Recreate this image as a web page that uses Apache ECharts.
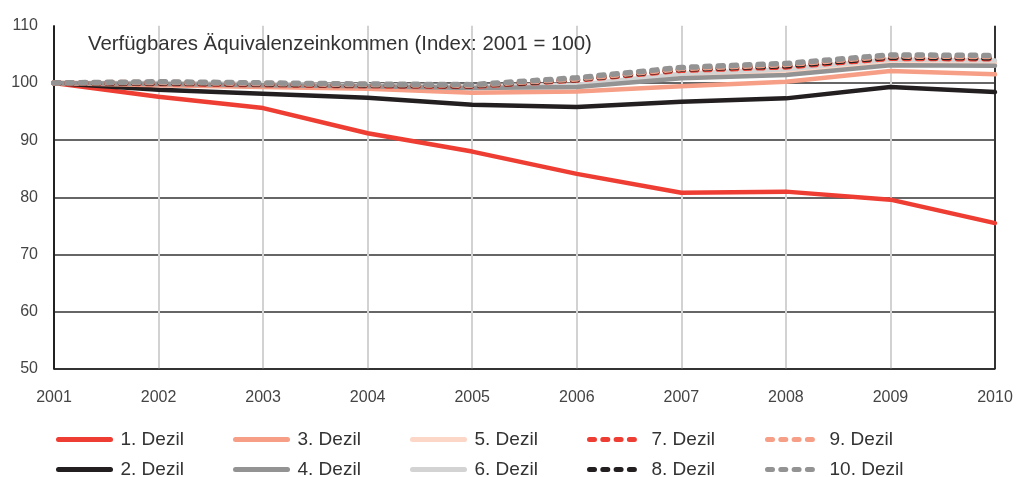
<!DOCTYPE html>
<html>
<head>
<meta charset="utf-8">
<script src="https://cdn.jsdelivr.net/npm/echarts@6/dist/echarts.min.js"></script>
<style>
  html, body { margin: 0; padding: 0; background: #fff; }
  #main { width: 1016px; height: 477px; }
</style>
</head>
<body>
<div id="main"></div>
<script>
// Jahre und Indexwerte (2001 = 100)
var years = ['2001', '2002', '2003', '2004', '2005', '2006', '2007', '2008', '2009', '2010'];

var dezil1 = [100, 97.6, 95.6, 91.2, 88.0, 84.1, 80.8, 81.0, 79.6, 75.5];
var dezil2 = [100, 98.8, 98.1, 97.4, 96.2, 95.8, 96.7, 97.3, 99.3, 98.4];
var dezil3 = [100, 99.6, 99.3, 99.0, 98.3, 98.5, 99.4, 100.2, 102.1, 101.5];
var dezil4 = [100, 99.8, 99.6, 99.4, 99.1, 99.3, 100.8, 101.4, 103.1, 103.0];
var dezil5 = [100, 99.9, 99.7, 99.5, 99.3, 99.5, 101.2, 101.9, 103.6, 103.5];
var dezil6 = [100, 100.0, 99.8, 99.6, 99.4, 99.7, 101.6, 102.4, 104.1, 103.9];
var dezil7 = [100, 99.9, 99.7, 99.5, 99.4, 100.5, 102.2, 102.8, 104.3, 104.2];
var dezil8 = [100, 100.0, 99.8, 99.6, 99.5, 100.6, 102.4, 103.0, 104.5, 104.4];
var dezil9 = [100, 100.1, 99.9, 99.7, 99.6, 100.7, 102.5, 103.2, 104.7, 104.6];
var dezil10 = [100, 100.2, 100.0, 99.8, 99.7, 100.9, 102.7, 103.4, 104.9, 104.8];

// Legende: zwei Zeilen, spaltenweise
var legendRow1 = ['1. Dezil', '3. Dezil', '5. Dezil', '7. Dezil', '9. Dezil'];
var legendRow2 = ['2. Dezil', '4. Dezil', '6. Dezil', '8. Dezil', '10. Dezil'];

var yMin = 50, yMax = 110, yStep = 10;

var chart = echarts.init(document.getElementById('main'));

function solid(name, data, color) {
  return {
    name: name, type: 'line', data: data, symbol: 'none',
    lineStyle: { color: color, width: 4.5, cap: 'round' },
    itemStyle: { color: color }
  };
}
function dashed(name, data, color) {
  return {
    name: name, type: 'line', data: data, symbol: 'none',
    lineStyle: { color: color, width: 5.5, type: [5, 8.3], cap: 'round' },
    itemStyle: { color: color }
  };
}

// jeder Eintrag eine eigene Legende, damit die Spalten sauber untereinander stehen
var colX = [54, 231, 408, 585, 763];
var legends = [];
[legendRow1, legendRow2].forEach(function (row, r) {
  row.forEach(function (name, c) {
    legends.push({
      data: [name],
      left: colX[c] - 3, top: 425 + r * 30,
      itemWidth: 52, itemHeight: 14,
      itemStyle: { opacity: 0 },
      lineStyle: { width: 5, cap: 'round' },
      textStyle: {
        color: '#333', fontSize: 19, fontFamily: 'Liberation Sans',
        padding: [0, 0, 0, 5]
      }
    });
  });
});

var option = {
  animation: false,
  backgroundColor: '#fff',
  title: {
    text: 'Verfügbares Äquivalenzeinkommen (Index: 2001 = 100)',
    left: 83, top: 29,
    textStyle: { color: '#333', fontSize: 20.4, fontWeight: 'normal', fontFamily: 'Liberation Sans' }
  },
  grid: { left: 54, right: 21, top: 25.7, bottom: 108 },
  legend: legends,
  xAxis: {
    type: 'category', data: years, boundaryGap: false,
    axisLine: { lineStyle: { color: '#222', width: 1.5 } },
    axisTick: { show: false },
    axisLabel: { color: '#444', fontSize: 16, fontFamily: 'Liberation Sans', margin: 21 },
    splitLine: {
      show: true,
      lineStyle: {
        width: 2,
        color: ['#222', '#d2d2d2', '#d2d2d2', '#d2d2d2', '#d2d2d2', '#d2d2d2', '#d2d2d2', '#d2d2d2', '#d2d2d2', '#333']
      }
    }
  },
  yAxis: {
    type: 'value', min: yMin, max: yMax, interval: yStep,
    axisLine: { show: true, lineStyle: { color: '#222', width: 1.5 } },
    axisTick: { show: false },
    axisLabel: { color: '#444', fontSize: 16, fontFamily: 'Liberation Sans', margin: 16 },
    splitLine: {
      show: true,
      lineStyle: {
        width: 1.5,
        color: ['#333', '#333', '#333', '#333', '#333', '#333', 'rgba(0,0,0,0)']
      }
    }
  },
  series: [
    solid('1. Dezil', dezil1, '#ee3d32'),
    solid('2. Dezil', dezil2, '#231f20'),
    solid('5. Dezil', dezil5, '#fcd6c6'),
    solid('6. Dezil', dezil6, '#d3d3d3'),
    solid('3. Dezil', dezil3, '#f69f86'),
    solid('4. Dezil', dezil4, '#939393'),
    dashed('7. Dezil', dezil7, '#ee3d32'),
    dashed('8. Dezil', dezil8, '#231f20'),
    dashed('9. Dezil', dezil9, '#f69f86'),
    dashed('10. Dezil', dezil10, '#939393')
  ]
};

chart.setOption(option);
</script>
</body>
</html>
